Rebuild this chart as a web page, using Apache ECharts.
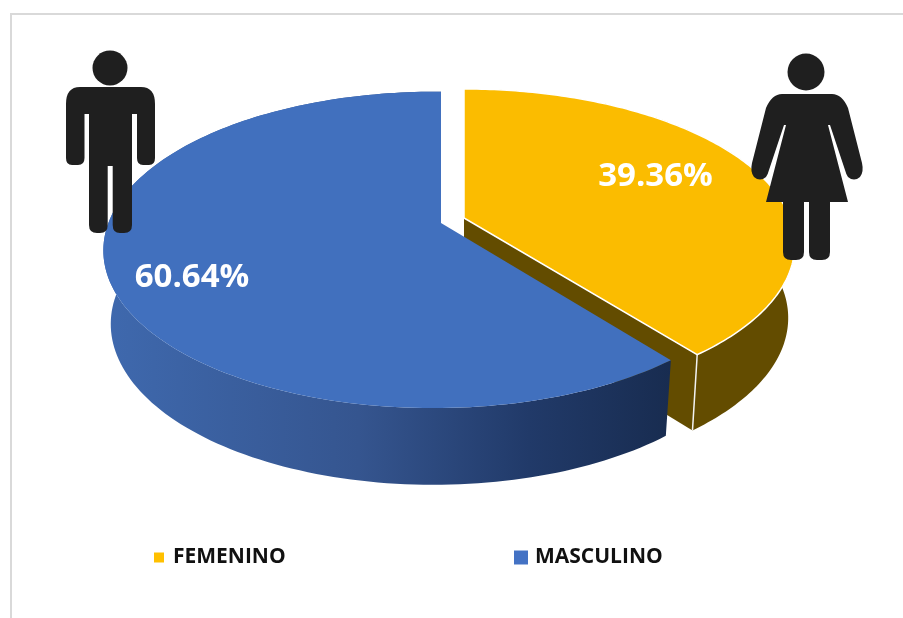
<!DOCTYPE html>
<html><head><meta charset="utf-8">
<style>html,body{margin:0;padding:0;background:#fff}#c{width:903px;height:618px}</style>
<script src="https://cdn.jsdelivr.net/npm/echarts@6/dist/echarts.min.js"></script>
</head><body><div id="c"></div>
<script>
const categories = ['FEMENINO', 'MASCULINO'];
const femeninoValues = [39.36];
const masculinoValues = [60.64];
const total = femeninoValues[0] + masculinoValues[0];

// Perspective disc geometry (layout only)
const discF = {cx:464, cy:218, a:326, b:151, k:0.17, m:0, dx:0.98, dyScale:1.02, dy:73, label:[655.5,177]};
const discM = {cx:441, cy:223, a:326, b:153.6, k:0.17, m:-0.02, dx:0.978, dyScale:1.02, dy:73, label:[192,278]};

function topPoint(d, deg){
  const t = deg*Math.PI/180, u = Math.sin(t), v = -Math.cos(t), w = 1 - d.k*v - d.m*u;
  return [d.cx + d.a*u/w, d.cy + d.b*v/w];
}
function lowPoint(d, p){
  return [d.cx + d.dx*(p[0]-d.cx), d.cy + d.dy + d.dyScale*(p[1]-d.cy)];
}
function arc(d, from, to){
  const pts = [], n = 160;
  for(let i=0;i<=n;i++) pts.push(topPoint(d, from + (to-from)*i/n));
  return pts;
}
const poly = (points, style) => ({type:'polygon', shape:{points}, style});

const manPath = 'M80 87H141Q155 87 155 104V158Q155 165 149 165H143Q137 165 137 158V114H132V225Q132 233 124 233H120Q112.7 233 112.7 225V166H107.7V225Q107.7 233 100 233H97Q89 233 89 225V114H84.5V158Q84.5 165 78 165H72Q66 165 66 158V104Q66 87 80 87Z';
const womanPath = 'M782 94H832Q842 94 848 108L862 163Q864 172 860 177Q854 182 848 177Q846 174 845 170L830 125H828L848 202H830V252Q830 260 822 260H817Q809 260 809 252V202H804V252Q804 260 796 260H791Q783 260 783 252V202H766L786 125H784L769 170Q768 174 766 177Q760 182 754 177Q750 172 752 163L766 108Q772 94 782 94Z';
const ink = '#1F1F1F';
const labelFont = 'bold 33px "Open Sans"';

function renderF(params, api){
  const d = discF, sweep = api.value(0)/total*360;
  const a = arc(d, 0, sweep), apex = [d.cx,d.cy];
  const end = a[a.length-1], lowEnd = lowPoint(d,end), side = '#634C00';
  return {type:'group', children:[
    poly(a.concat(a.map(p=>lowPoint(d,p)).reverse()), {fill:side}),
    poly([apex,end,lowEnd,lowPoint(d,apex)], {fill:side}),
    {type:'line', shape:{x1:end[0],y1:end[1],x2:lowEnd[0],y2:lowEnd[1]}, style:{stroke:'#f2f2f2',lineWidth:1.5}},
    poly([apex].concat(a), {fill:'#FBBC00', stroke:'#ffffff', lineWidth:1.5, lineJoin:'miter'}),
    {type:'text', x:d.label[0], y:d.label[1], style:{text:api.value(0).toFixed(2)+'%', fill:'#fff', font:labelFont, align:'center', verticalAlign:'middle'}},
    {type:'path', shape:{pathData:womanPath}, style:{fill:ink}},
    {type:'circle', shape:{cx:806, cy:72, r:18.5}, style:{fill:ink}}
  ]};
}
function renderM(params, api){
  const d = discM, sweep = api.value(0)/total*360;
  const a = arc(d, 360-sweep, 360), apex = [d.cx,d.cy];
  return {type:'group', children:[
    poly(a.concat(a.map(p=>lowPoint(d,p)).reverse()), {fill:{type:'linear',x:0,y:0,x2:1,y2:0,colorStops:[
      {offset:0,color:'#3F69AE'},{offset:0.45,color:'#35558F'},{offset:0.75,color:'#213A69'},{offset:1,color:'#182C50'}]}}),
    poly([apex].concat(a), {fill:'#4170BE'}),
    {type:'text', x:d.label[0], y:d.label[1], style:{text:api.value(0).toFixed(2)+'%', fill:'#fff', font:labelFont, align:'center', verticalAlign:'middle'}},
    {type:'path', shape:{pathData:manPath}, style:{fill:ink}},
    {type:'circle', shape:{cx:110, cy:68, r:17.5}, style:{fill:ink}}
  ]};
}

const legendText = {fontFamily:'Open Sans', fontWeight:'bold', fontSize:21, color:'#111'};

const chart = echarts.init(document.getElementById('c'));
chart.setOption({
  animation:false,
  backgroundColor:'#fff',
  legend:[
    {data:[categories[0]], left:154, top:547, padding:0, icon:'rect', itemWidth:10, itemHeight:10, textStyle:Object.assign({padding:[0,0,0,4]}, legendText), selectedMode:false},
    {data:[categories[1]], left:514, top:547, padding:0, icon:'rect', itemWidth:14, itemHeight:14, textStyle:Object.assign({padding:[0,0,0,2]}, legendText), selectedMode:false}
  ],
  series:[
    {type:'custom', name:categories[0], coordinateSystem:'none', data:femeninoValues.map(v=>[v]), itemStyle:{color:'#FFC000'}, renderItem:renderF, silent:true, z:2},
    {type:'custom', name:categories[1], coordinateSystem:'none', data:masculinoValues.map(v=>[v]), itemStyle:{color:'#4472C4'}, renderItem:renderM, silent:true, z:3}
  ],
  graphic:[
    {type:'polyline', z:1, shape:{points:[[903,14],[11,14],[11,618]]}, style:{stroke:'#D9D9D9', lineWidth:2, fill:null}}
  ]
});
</script></body></html>
